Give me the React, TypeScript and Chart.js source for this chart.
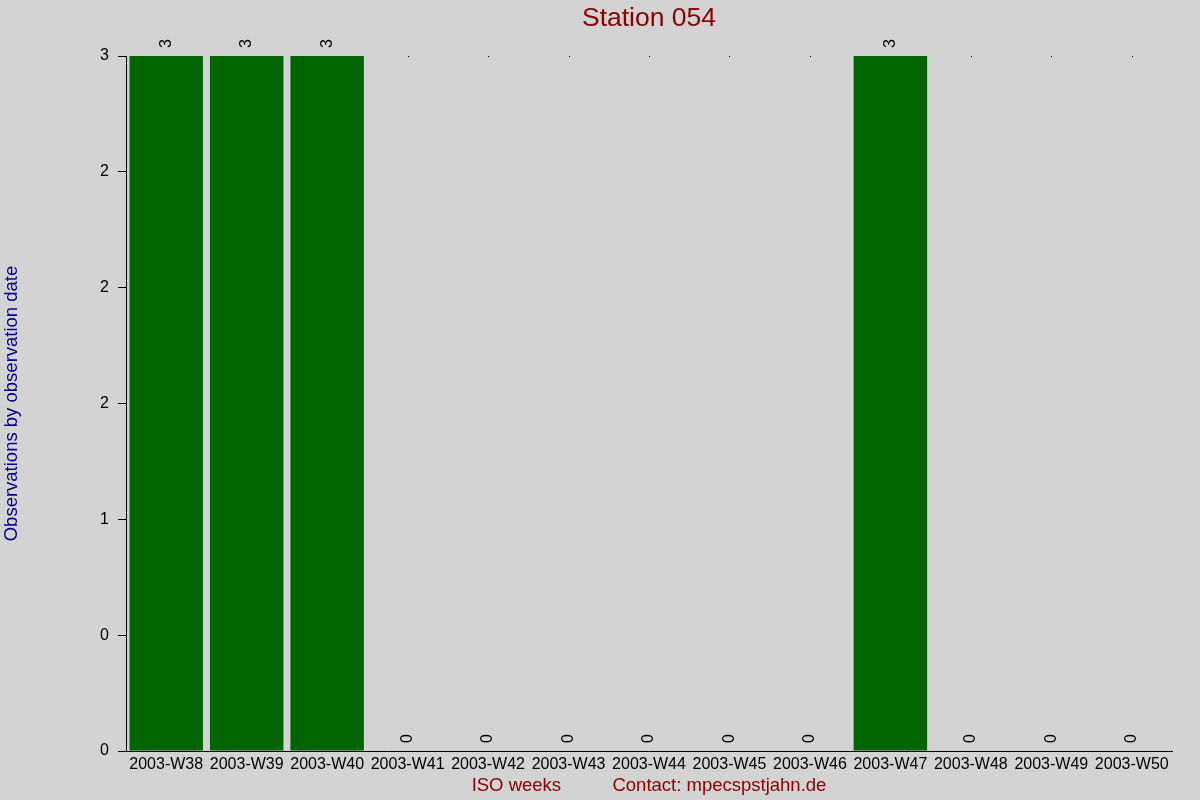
import { useEffect, useRef } from "react";
import Chart from "chart.js/auto";

const weeks = [
  "2003-W38",
  "2003-W39",
  "2003-W40",
  "2003-W41",
  "2003-W42",
  "2003-W43",
  "2003-W44",
  "2003-W45",
  "2003-W46",
  "2003-W47",
  "2003-W48",
  "2003-W49",
  "2003-W50",
];

const observations = [3, 3, 3, 0, 0, 0, 0, 0, 0, 3, 0, 0, 0];

const FONT = "'Liberation Sans', Arial, sans-serif";

// the original rounds half-values to even, so 0.5 -> 0, 1.5 -> 2, 2.5 -> 2
function roundHalfEven(v: number) {
  const f = Math.floor(v);
  const d = v - f;
  if (Math.abs(d - 0.5) < 1e-9) return f % 2 === 0 ? f : f + 1;
  return Math.round(v);
}

export default function App() {
  const canvasRef = useRef<HTMLCanvasElement | null>(null);
  const chartRef = useRef<Chart | null>(null);

  useEffect(() => {
    document.body.style.margin = "0";
    document.body.style.background = "#d3d3d3";
    if (!canvasRef.current) return;

    const backgroundPlugin = {
      id: "bg",
      beforeDraw(chart: any) {
        const ctx = chart.ctx;
        ctx.save();
        ctx.fillStyle = "#d3d3d3";
        ctx.fillRect(0, 0, chart.width, chart.height);
        ctx.restore();
      },
    };

    const barLabelPlugin = {
      id: "barLabels",
      afterDatasetsDraw(chart: any) {
        const ctx = chart.ctx;
        const meta = chart.getDatasetMeta(0);
        const data = chart.data.datasets[0].data as number[];
        ctx.save();
        meta.data.forEach((bar: any, i: number) => {
          if (data[i] === 0) {
            ctx.fillStyle = "#000";
            ctx.fillRect(Math.round(bar.x), chart.chartArea.top, 1, 1);
          }
          ctx.save();
          ctx.translate(bar.x, bar.y - 8);
          ctx.rotate(-Math.PI / 2);
          ctx.fillStyle = "#000";
          ctx.font = `16px ${FONT}`;
          ctx.textAlign = "left";
          ctx.textBaseline = "middle";
          ctx.fillText(String(data[i]), 0, 0);
          ctx.restore();
        });
        ctx.restore();
      },
    };

    chartRef.current?.destroy();
    chartRef.current = new Chart(canvasRef.current, {
      type: "bar",
      data: {
        labels: weeks,
        datasets: [
          {
            data: observations,
            backgroundColor: "#006400",
            borderWidth: 0,
            barPercentage: 0.913,
            categoryPercentage: 1,
          },
        ],
      },
      options: {
        responsive: false,
        animation: false,
        devicePixelRatio: 1,
        layout: { padding: { top: 0, right: 28, bottom: 0, left: 0 } },
        plugins: {
          legend: { display: false },
          tooltip: { enabled: false },
          title: {
            display: true,
            text: "Station 054",
            color: "#8b0000",
            fullSize: false,
            font: { family: FONT, size: 26.5, weight: "normal", lineHeight: 1.2 },
            padding: { top: 3, bottom: 21.2 },
          },
        },
        scales: {
          x: {
            grid: { display: false, drawTicks: false },
            border: { display: true, color: "#000", width: 1 },
            ticks: {
              color: "#000",
              padding: 4,
              maxRotation: 0,
              autoSkip: false,
              font: { family: FONT, size: 16 },
            },
            title: {
              display: true,
              text: "ISO weeks          Contact: mpecspstjahn.de",
              color: "#8b0000",
              font: { family: FONT, size: 18.5 },
              padding: { top: 1, bottom: 3 },
            },
            afterFit(scale: any) {
              scale.height = 49;
            },
          },
          y: {
            min: 0,
            max: 3,
            grid: {
              display: true,
              drawOnChartArea: false,
              drawTicks: true,
              tickLength: 8,
              color: "#000",
            },
            border: { display: true, color: "#000", width: 1 },
            ticks: {
              stepSize: 0.5,
              color: "#000",
              padding: 9,
              font: { family: FONT, size: 16 },
              callback: (v: any) => String(roundHalfEven(Number(v))),
            },
            title: {
              display: true,
              text: "Observations by observation date",
              color: "#00008b",
              font: { family: FONT, size: 18.5 },
              padding: { top: 1, bottom: 0 },
            },
            afterFit(scale: any) {
              scale.width = 126;
            },
          },
        },
      },
      plugins: [backgroundPlugin, barLabelPlugin],
    });

    return () => chartRef.current?.destroy();
  }, []);

  return (
    <div style={{ width: 1200, height: 800, background: "#d3d3d3" }}>
      <canvas ref={canvasRef} width={1200} height={800} />
    </div>
  );
}
